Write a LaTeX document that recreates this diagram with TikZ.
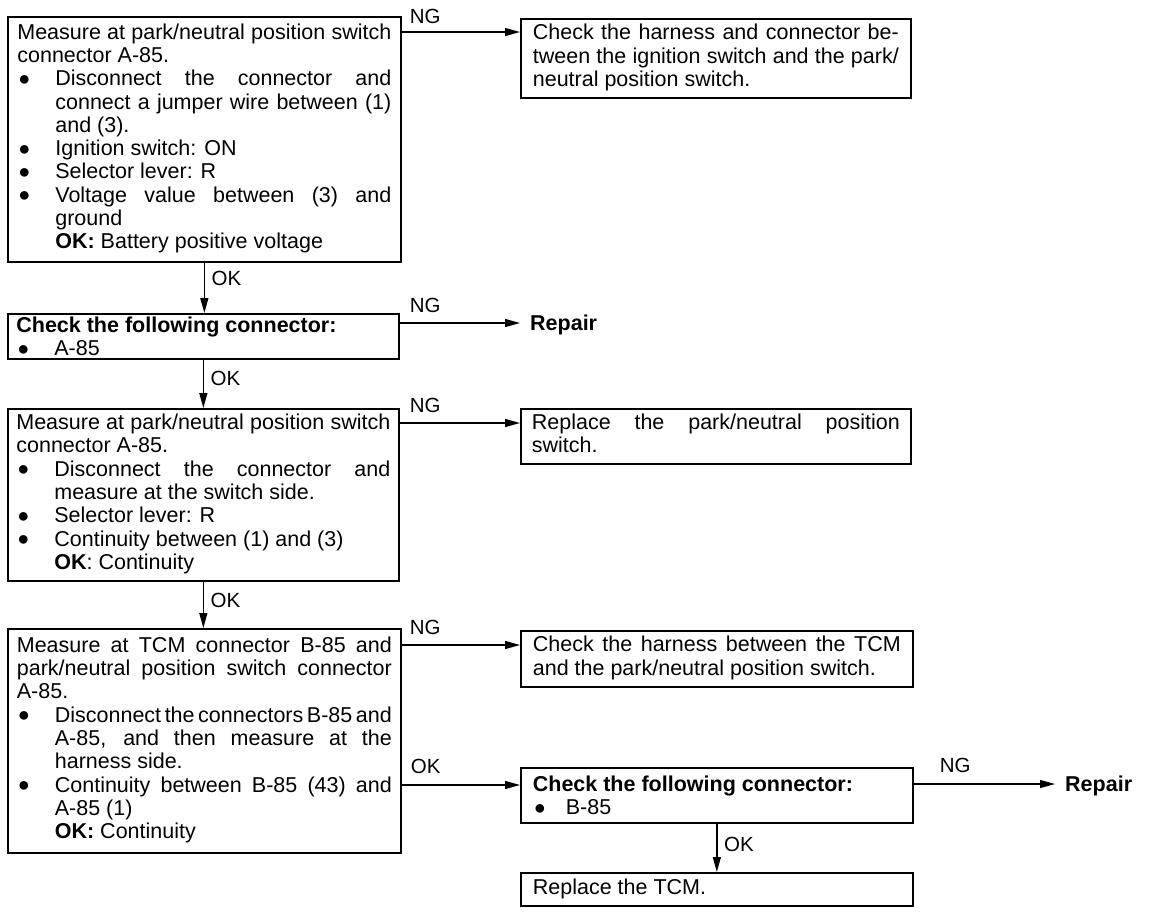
\documentclass[tikz,border=0pt]{standalone}
\usepackage{fontspec}
\setmainfont{Liberation Sans}
\usetikzlibrary{arrows.meta,calc}
\newcommand\VB[2]{\vbox{\hsize=#1\relax #2}}
\newcommand\VBn[2]{\vbox{\hsize=#1\relax\let\strut\relax #2}}
\newcommand\blt{\raisebox{0.5pt}{\fontsize{20}{20}\selectfont ●}}
\newcommand\Lf[1]{\hbox to\hsize{\strut#1\hfil}}
\newcommand\Jf[1]{\hbox to\hsize{\strut#1}}
\newcommand\Bl[1]{\hbox to\hsize{\strut\hbox to 38pt{\hskip1pt\blt\hfil}#1\hfil}}
\newcommand\Bj[1]{\hbox to\hsize{\strut\hbox to 38pt{\hskip1pt\blt\hfil}#1}}
\newcommand\Il[1]{\hbox to\hsize{\strut\hskip38pt#1\hfil}}
\newcommand\Ij[1]{\hbox to\hsize{\strut\hskip38pt#1}}
\tikzset{
  boxst/.style={draw, line width=1.7pt, inner sep=0pt, anchor=north west,
    font=\fontsize{21.5}{23.3}\selectfont},
  arr/.style={line width=1.3pt, -{Triangle[length=15pt,width=8pt]}},
  lab/.style={inner sep=0pt, anchor=south west, font=\fontsize{20.5}{22}\selectfont},
  rep/.style={inner sep=0pt, inner xsep=10pt, anchor=west, font=\fontsize{21.5}{23.3}\selectfont\bfseries},
}
\begin{document}
\begin{tikzpicture}[x=1pt,y=-1pt]
\useasboundingbox (0,0) rectangle (1152,914);

\node[boxst, minimum width=393pt, minimum height=245pt] (b1) at (7,16) {\VB{374pt}{%
\Jf{Measure at park/neutral position switch}
\Lf{connector A-85.}
\Bj{Disconnect the connector and}
\Ij{connect a jumper wire between (1)}
\Il{and (3).}
\Bl{Ignition switch: ON}
\Bl{Selector lever: R}
\Bj{Voltage value between (3) and}
\Il{ground}
\Il{\textbf{OK:} Battery positive voltage}}};

\node[boxst, minimum width=390pt, minimum height=79pt] (b2) at (520,18) {\VB{366pt}{%
\Jf{Check the harness and connector be-}
\Jf{tween the ignition switch and the park/}
\Lf{neutral position switch.}}};

\node[boxst, minimum width=391pt, minimum height=45pt] (b3) at (7,313) {\VBn{374pt}{%
\Lf{\textbf{Check the following connector:}}
\Bl{A-85}}};

\node[rep] (r1) at (520,325) {Repair};

\node[boxst, minimum width=391pt, minimum height=172pt] (b4) at (7,408) {\VB{374pt}{%
\Jf{Measure at park/neutral position switch}
\Lf{connector A-85.}
\Bj{Disconnect the connector and}
\Il{measure at the switch side.}
\Bl{Selector lever: R}
\Bl{Continuity between (1) and (3)}
\Il{\textbf{OK}: Continuity}}};

\node[boxst, minimum width=390pt, minimum height=55pt] (b5) at (520,408) {\VB{368pt}{%
\Jf{Replace the park/neutral position}
\Lf{switch.}}};

\node[boxst, minimum width=393pt, minimum height=224pt] (b6) at (7,628) {\VB{375pt}{%
\Jf{Measure at TCM connector B-85 and}
\Jf{park/neutral position switch connector}
\Lf{A-85.}
\Bj{\spaceskip=1.5pt plus 20pt minus 1pt Disconnect the connectors B-85 and}
\Ij{A-85, and then measure at the}
\Il{harness side.}
\Bj{Continuity between B-85 (43) and}
\Il{A-85 (1)}
\Il{\textbf{OK:} Continuity}}};

\node[boxst, minimum width=392pt, minimum height=56pt] (b7) at (520,630) {\VB{368pt}{%
\Jf{Check the harness between the TCM}
\Lf{and the park/neutral position switch.}}};

\node[boxst, minimum width=392pt, minimum height=55pt] (b8) at (520,767) {\VBn{368pt}{%
\Lf{\textbf{Check the following connector:}}
\hbox to\hsize{\hbox to 33pt{\hskip1pt\blt\hfil}B-85\hfil}}};

\node[rep] (r2) at (1055,786) {Repair};

\node[boxst, minimum width=392pt, minimum height=33pt] (b9) at (520,872) {\VB{368pt}{%
\Lf{Replace the TCM.}}};

% connectors
\coordinate (s1) at ([yshift=-16pt]b1.north east);
\draw[arr] (s1) -- (s1 -| b2.west);
\node[lab] (ng1) at ([xshift=8pt,yshift=8pt]s1) {NG};

\draw[arr] (b1.south) -- (b1.south |- b3.north);
\node[lab, anchor=west] (ok1) at ([xshift=7pt,yshift=-16pt]b1.south) {OK};

\coordinate (s3) at ([yshift=-10pt]b3.north east);
\draw[arr] (s3) -- (s3 -| r1.west);
\node[lab] (ng2) at ([xshift=10pt,yshift=10pt]s3) {NG};

\draw[arr] (b3.south) -- (b3.south |- b4.north);
\node[lab, anchor=west] (ok2) at ([xshift=7pt,yshift=-19pt]b3.south) {OK};

\coordinate (s4) at ([yshift=-15pt]b4.north east);
\draw[arr] (s4) -- (s4 -| b5.west);
\node[lab] (ng3) at ([xshift=10pt,yshift=10pt]s4) {NG};

\draw[arr] (b4.south) -- (b4.south |- b6.north);
\node[lab, anchor=west] (ok3) at ([xshift=7pt,yshift=-19pt]b4.south) {OK};

\coordinate (s6) at ([yshift=-17pt]b6.north east);
\draw[arr] (s6) -- (s6 -| b7.west);
\node[lab] (ng4) at ([xshift=8pt,yshift=10pt]s6) {NG};

\coordinate (s7) at ([yshift=-157pt]b6.north east);
\draw[arr] (s7) -- (s7 -| b8.west);
\node[lab] (ok4) at ([xshift=9pt,yshift=11pt]s7) {OK};

\coordinate (s8) at ([yshift=-17pt]b8.north east);
\draw[arr] (s8) -- (s8 -| r2.west);
\node[lab] (ng5) at ([xshift=26pt,yshift=11pt]s8) {NG};

\draw[arr] (b8.south) -- (b8.south |- b9.north);
\node[lab, anchor=west] (ok5) at ([xshift=7pt,yshift=-21pt]b8.south) {OK};
\end{tikzpicture}
\end{document}
